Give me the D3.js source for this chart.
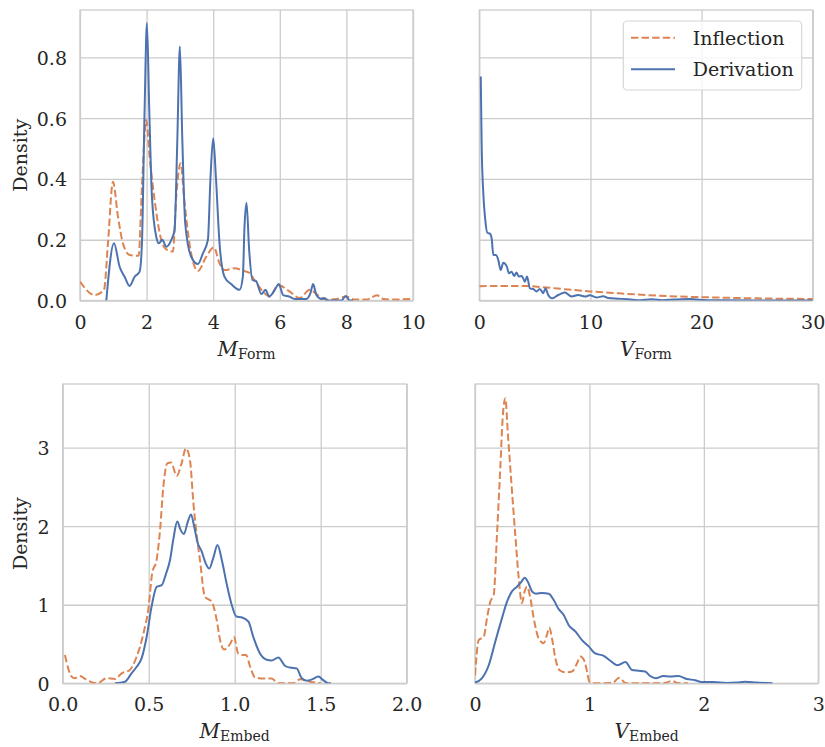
<!DOCTYPE html>
<html>
<head>
<meta charset="utf-8">
<script src="https://cdn.jsdelivr.net/npm/d3@7"></script>
<style>
  body { margin: 0; background: #fff; }
  text { font-family: "DejaVu Serif", serif; fill: #262626; }
</style>
</head>
<body>
<div id="chart"></div>
<script>
// values, [x, density]
const mFormInflection = [[0,0.062],[0.44,0.018],[0.72,0.035],[0.84,0.188],[0.99,0.391],[1.14,0.276],[1.29,0.188],[1.49,0.15],[1.76,0.147],
  [1.86,0.375],[1.99,0.594],[2.09,0.473],[2.24,0.331],[2.44,0.199],[2.59,0.168],[2.79,0.161],[2.89,0.342],[3.02,0.452],[3.14,0.32],
  [3.32,0.166],[3.54,0.097],[3.79,0.144],[4.02,0.175],[4.19,0.122],[4.34,0.1],[4.64,0.106],[4.9,0.098],[5.1,0.09],[5.25,0.065],
  [5.5,0.029],[5.7,0.013],[5.95,0.051],[6.3,0.029],[6.6,0.008],[6.9,0.035],[7.2,0.013],[7.4,0.003],[7.7,0.005],[8.0,0.013],
  [8.25,0.003],[8.6,0.003],[8.92,0.017],[9.1,0.005],[9.5,0.003],[9.9,0.005],[10,0.003]];
const mFormDerivation = [[0.79,0],[1.02,0.188],[1.19,0.111],[1.34,0.078],[1.49,0.048],[1.64,0.078],[1.79,0.095],[1.86,0.188],[1.94,0.627],
  [2.01,0.913],[2.08,0.627],[2.16,0.342],[2.29,0.21],[2.37,0.188],[2.47,0.2],[2.59,0.177],[2.74,0.199],[2.84,0.232],[2.92,0.517],
  [3.0,0.836],[3.07,0.54],[3.16,0.254],[3.34,0.144],[3.54,0.12],[3.69,0.155],[3.84,0.199],[3.92,0.408],[4.0,0.534],[4.08,0.408],
  [4.19,0.188],[4.34,0.078],[4.54,0.054],[4.79,0.035],[4.89,0.078],[4.94,0.243],[5.0,0.322],[5.08,0.166],[5.18,0.067],[5.28,0.065],
  [5.45,0.021],[5.57,0.035],[5.68,0.013],[5.85,0.035],[5.97,0.054],[6.1,0.018],[6.28,0.013],[6.45,0.005],[6.8,0.005],[6.92,0.024],
  [7.0,0.054],[7.1,0.018],[7.25,0.005],[7.35,0.008],[7.42,0],[7.85,0],[7.98,0.015],[8.1,0],[8.2,0]];

const vFormInflection = [[0,0.047],[2,0.048],[4,0.048],[5,0.046],[6,0.043],[8,0.036],[10,0.03],[12,0.025],[15,0.018],[18,0.013],
  [20,0.011],[25,0.007],[30,0.005]];
const vFormDerivation = [[0.13,0.737],[0.21,0.517],[0.36,0.353],[0.51,0.276],[0.72,0.223],[0.96,0.22],[1.11,0.205],[1.26,0.15],[1.5,0.15],
  [1.71,0.133],[1.92,0.1],[2.16,0.124],[2.46,0.113],[2.67,0.09],[2.91,0.095],[3.14,0.081],[3.35,0.092],[3.56,0.079],[3.83,0.081],
  [4.1,0.062],[4.3,0.079],[4.55,0.04],[4.85,0.038],[5.15,0.03],[5.45,0.038],[5.75,0.024],[5.96,0.04],[6.2,0.018],[6.56,0.007],
  [7.1,0.018],[7.7,0.026],[8.3,0.013],[8.9,0.018],[9.5,0.013],[9.95,0.017],[10.55,0.01],[11.15,0.014],[11.6,0.008],[12.5,0.006],
  [13.4,0.004],[14.5,0.001],[15.5,0.004],[16.5,0.001],[17.5,0.003],[19,0.005],[20,0.002],[22,0.001],[25,0],[30,0]];

const mEmbedInflection = [[0.013,0.36],[0.052,0.085],[0.07,0.065],[0.1,0.093],[0.14,0.042],[0.2,0],[0.256,0.065],[0.304,0.055],
  [0.343,0.127],[0.39,0.17],[0.43,0.34],[0.47,0.64],[0.5,0.98],[0.52,1.4],[0.546,1.57],[0.566,1.95],[0.585,2.5],[0.608,2.8],
  [0.63,2.81],[0.663,2.64],[0.69,2.79],[0.717,2.99],[0.74,2.84],[0.76,2.29],[0.78,1.87],[0.798,1.57],[0.827,1.1],[0.866,1.04],
  [0.895,0.81],[0.915,0.55],[0.938,0.43],[0.973,0.5],[0.996,0.59],[1.02,0.38],[1.04,0.36],[1.066,0.36],[1.09,0.21],[1.118,0.076],
  [1.166,0.06],[1.215,0.06],[1.254,0],[1.34,0],[1.38,0.05],[1.44,0.02],[1.5,0]];
const mEmbedDerivation = [[0.304,0],[0.362,0.02],[0.4,0.127],[0.43,0.21],[0.459,0.32],[0.488,0.59],[0.517,0.98],[0.547,1.23],[0.576,1.25],
  [0.6,1.39],[0.624,1.57],[0.643,1.83],[0.666,2.06],[0.686,1.95],[0.705,1.9],[0.725,2.04],[0.746,2.15],[0.765,1.99],[0.783,1.8],
  [0.808,1.68],[0.831,1.53],[0.852,1.46],[0.876,1.6],[0.9,1.76],[0.925,1.57],[0.953,1.27],[0.98,1.02],[1.01,0.85],[1.04,0.84],
  [1.08,0.785],[1.108,0.59],[1.147,0.38],[1.186,0.3],[1.215,0.29],[1.254,0.33],[1.293,0.22],[1.322,0.2],[1.36,0.19],[1.39,0.064],
  [1.42,0.034],[1.45,0.05],[1.486,0.085],[1.515,0.04],[1.544,0],[1.56,0]];

const vEmbedInflection = [[0,0.1],[0.009,0.275],[0.032,0.55],[0.076,0.59],[0.105,0.83],[0.134,1.04],[0.163,1.12],[0.192,1.89],[0.221,2.74],
  [0.242,3.38],[0.265,3.63],[0.288,3.16],[0.317,2.57],[0.352,1.89],[0.382,1.34],[0.41,1.02],[0.434,1.17],[0.454,1.23],[0.483,1.09],
  [0.513,0.83],[0.557,0.57],[0.6,0.51],[0.629,0.62],[0.65,0.71],[0.673,0.57],[0.702,0.32],[0.737,0.17],[0.79,0.14],[0.848,0.15],
  [0.892,0.255],[0.92,0.34],[0.959,0.275],[0.979,0.15],[1.0,0.02],[1.04,0],[1.2,0.005],[1.26,0.07],[1.32,0],[1.65,0],[1.72,0.03],
  [1.78,0],[1.86,0]];
const vEmbedDerivation = [[0,0.01],[0.06,0.064],[0.12,0.23],[0.177,0.53],[0.236,0.83],[0.28,1.04],[0.323,1.17],[0.367,1.23],[0.405,1.29],
  [0.434,1.345],[0.463,1.29],[0.498,1.17],[0.533,1.14],[0.586,1.15],[0.644,1.14],[0.688,1.06],[0.726,0.955],[0.775,0.87],[0.819,0.74],
  [0.877,0.66],[0.935,0.55],[0.994,0.47],[1.05,0.38],[1.125,0.35],[1.18,0.29],[1.247,0.23],[1.314,0.27],[1.372,0.17],[1.43,0.16],
  [1.486,0.15],[1.53,0.093],[1.58,0.064],[1.646,0.093],[1.705,0.085],[1.777,0.093],[1.85,0.055],[1.923,0.04],[1.98,0.017],
  [2.08,0.017],[2.2,0.005],[2.29,0.01],[2.36,0.02],[2.46,0.01],[2.6,0]];

const seriesNames = ["Inflection", "Derivation"];
const seriesColors = ["#dd8452", "#4c72b0"];
const seriesDash = ["7.4,3.2", null];

const mFormTicks = [0, 2, 4, 6, 8, 10];
const vFormTicks = [0, 10, 20, 30];
const mEmbedTicks = [0, 0.5, 1.0, 1.5, 2.0];
const vEmbedTicks = [0, 1, 2, 3];
const topYTicks = [0, 0.2, 0.4, 0.6, 0.8];
const bottomYTicks = [0, 1, 2, 3];

const W = 825, H = 747;
const svg = d3.select("#chart").append("svg").attr("width", W).attr("height", H);

const panels = [
  {box: [80, 413, 10, 300.5], xd: [0, 10], yd: [0, 0.956], xt: mFormTicks, yt: topYTicks, xf: d3.format("d"), yf: d3.format(".1f"),
   showY: true, sym: "M", sub: "Form", data: [mFormInflection, mFormDerivation]},
  {box: [479.3, 812.7, 10, 300.5], xd: [0, 30], yd: [0, 0.956], xt: vFormTicks, yt: topYTicks, xf: d3.format("d"), yf: d3.format(".1f"),
   showY: false, sym: "V", sub: "Form", data: [vFormInflection, vFormDerivation], legend: true},
  {box: [62.7, 406.7, 384, 683.3], xd: [0, 2], yd: [0, 3.81], xt: mEmbedTicks, yt: bottomYTicks, xf: d3.format(".1f"), yf: d3.format("d"),
   showY: true, sym: "M", sub: "Embed", data: [mEmbedInflection, mEmbedDerivation]},
  {box: [475, 818.3, 384, 683.3], xd: [0, 3], yd: [0, 3.81], xt: vEmbedTicks, yt: bottomYTicks, xf: d3.format("d"), yf: d3.format("d"),
   showY: false, sym: "V", sub: "Embed", data: [vEmbedInflection, vEmbedDerivation]}
];

panels.forEach((p, i) => {
  const [l, r, t, b] = p.box;
  const x = d3.scaleLinear().domain(p.xd).range([l, r]);
  const y = d3.scaleLinear().domain(p.yd).range([b, t]);
  const g = svg.append("g");

  // grid
  g.append("g").attr("transform", `translate(0,${b})`)
    .call(d3.axisBottom(x).tickValues(p.xt).tickSize(-(b - t)).tickFormat(p.xf).tickPadding(10))
    .call(a => a.select(".domain").remove())
    .call(a => a.selectAll("line").attr("stroke", "#cccccc").attr("stroke-width", 1.3))
    .call(a => a.selectAll("text").attr("font-size", 19).attr("fill", "#262626").attr("dy", "0.95em"));

  g.append("g").attr("transform", `translate(${l},0)`)
    .call(d3.axisLeft(y).tickValues(p.yt).tickSize(-(r - l)).tickFormat(p.showY ? p.yf : () => "").tickPadding(13))
    .call(a => a.select(".domain").remove())
    .call(a => a.selectAll("line").attr("stroke", "#cccccc").attr("stroke-width", 1.3))
    .call(a => a.selectAll("text").attr("font-size", 19).attr("fill", "#262626").attr("dy", "0.36em"));

  // frame
  g.append("rect").attr("x", l).attr("y", t).attr("width", r - l).attr("height", b - t)
    .attr("fill", "none").attr("stroke", "#cccccc").attr("stroke-width", 1.3);

  const clipId = "clip" + i;
  svg.append("clipPath").attr("id", clipId).append("rect")
    .attr("x", l).attr("y", t - 2).attr("width", r - l).attr("height", b - t + 2);

  const line = d3.line().x(d => x(d[0])).y(d => y(d[1])).curve(d3.curveMonotoneX);
  p.data.forEach((s, k) => {
    g.append("path").datum(s).attr("clip-path", `url(#${clipId})`)
      .attr("d", line).attr("fill", "none")
      .attr("stroke", seriesColors[k]).attr("stroke-width", 2)
      .attr("stroke-dasharray", seriesDash[k]);
  });

  // x label
  const xl = g.append("text").attr("x", (l + r) / 2).attr("y", b + 55).attr("text-anchor", "middle");
  xl.append("tspan").attr("font-style", "italic").attr("font-size", 20).text(p.sym);
  xl.append("tspan").attr("font-size", 14).attr("dy", 3).text(p.sub);

  if (p.showY) {
    g.append("text").attr("transform", `translate(26.5,${(t + b) / 2}) rotate(-90)`)
      .attr("text-anchor", "middle").attr("font-size", 19).text("Density");
  }

  if (p.legend) {
    const lg = g.append("g");
    lg.append("rect").attr("x", 623.3).attr("y", 21).attr("width", 178.4).attr("height", 69)
      .attr("rx", 4).attr("fill", "#ffffff").attr("fill-opacity", 0.8)
      .attr("stroke", "#d6d6d6").attr("stroke-width", 1.2);
    seriesNames.forEach((n, k) => {
      const yy = 37.7 + k * 31.6;
      lg.append("line").attr("x1", 631).attr("x2", 675).attr("y1", yy).attr("y2", yy)
        .attr("stroke", seriesColors[k]).attr("stroke-width", 2).attr("stroke-dasharray", seriesDash[k]);
      lg.append("text").attr("x", 692.7).attr("y", yy + 7).attr("font-size", 19).text(n);
    });
  }
});
</script>
</body>
</html>
